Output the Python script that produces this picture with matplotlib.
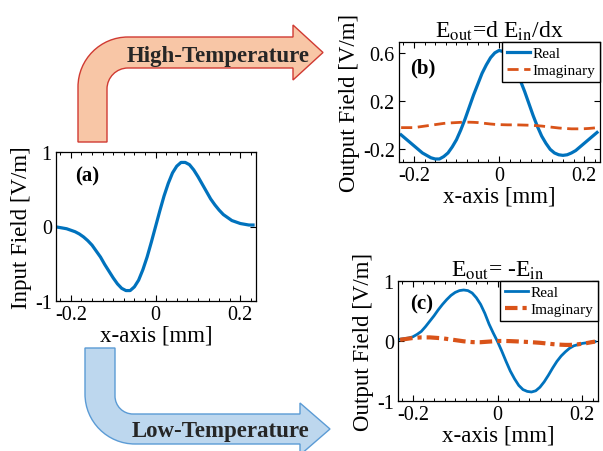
#!/usr/bin/env python3
"""
Input field and the two output fields (high / low temperature)
"""

import numpy as np
import matplotlib
matplotlib.use("Agg")
import matplotlib.pyplot as plt
from matplotlib.path import Path
from matplotlib.patches import PathPatch
from matplotlib.ticker import MultipleLocator, FixedLocator
from matplotlib.transforms import Affine2D

plt.rcParams['font.family'] = ['Liberation Serif', 'DejaVu Serif']
plt.rcParams['mathtext.fontset'] = 'stix'

# sample positions [mm]
x_mm = np.round(np.arange(-23, 24) / 100, 2)

# (a) input field
e_in = [-0.01, -0.02, -0.03, -0.05, -0.07, -0.10, -0.14, -0.19, -0.25, -0.33,
        -0.41, -0.51, -0.60, -0.69, -0.77, -0.83, -0.86, -0.86, -0.81, -0.72,
        -0.58, -0.41, -0.21, 0.00, 0.21, 0.41, 0.58, 0.72, 0.81, 0.86,
        0.86, 0.83, 0.76, 0.67, 0.57, 0.47, 0.37, 0.29, 0.22, 0.16,
        0.12, 0.08, 0.06, 0.04, 0.03, 0.02, 0.02]

# (b) high temperature: differentiator
b_real = [-0.08, -0.11, -0.14, -0.17, -0.20, -0.23, -0.25, -0.27, -0.28, -0.28,
          -0.26, -0.23, -0.18, -0.12, -0.04, 0.05, 0.15, 0.25, 0.34, 0.43,
          0.50, 0.56, 0.60, 0.62, 0.61, 0.58, 0.53, 0.46, 0.37, 0.28,
          0.18, 0.08, -0.01, -0.09, -0.15, -0.20, -0.23, -0.245, -0.25, -0.245,
          -0.23, -0.21, -0.18, -0.15, -0.12, -0.09, -0.06]
b_imag = [-0.02, -0.02, -0.02, -0.02, -0.015, -0.01, -0.005, 0.0, 0.005, 0.01,
          0.015, 0.018, 0.02, 0.022, 0.024, 0.025, 0.025, 0.024, 0.022, 0.018,
          0.014, 0.01, 0.007, 0.005, 0.004, 0.003, 0.003, 0.003, 0.002, 0.001,
          0.0, -0.002, -0.004, -0.007, -0.011, -0.015, -0.019, -0.023, -0.026, -0.028,
          -0.03, -0.03, -0.03, -0.029, -0.027, -0.024, -0.02]

# (c) low temperature: inverter
c_real = [0.03, 0.04, 0.05, 0.07, 0.11, 0.16, 0.24, 0.33, 0.42, 0.52,
          0.61, 0.69, 0.76, 0.81, 0.84, 0.85, 0.84, 0.80, 0.72, 0.61,
          0.46, 0.28, 0.13, -0.01, -0.17, -0.34, -0.50, -0.63, -0.74, -0.81,
          -0.84, -0.85, -0.83, -0.77, -0.68, -0.57, -0.45, -0.34, -0.25, -0.18,
          -0.12, -0.08, -0.06, -0.04, -0.03, -0.02, -0.01]
c_imag = [0.02, 0.03, 0.04, 0.05, 0.055, 0.06, 0.06, 0.06, 0.055, 0.05,
          0.045, 0.035, 0.025, 0.015, 0.005, -0.005, -0.012, -0.018, -0.02, -0.02,
          -0.015, -0.01, -0.005, 0.0, 0.0, 0.0, -0.002, -0.005, -0.008, -0.012,
          -0.016, -0.02, -0.025, -0.03, -0.037, -0.045, -0.052, -0.058, -0.062, -0.065,
          -0.065, -0.062, -0.055, -0.045, -0.035, -0.022, -0.01]

BLUE = '#0072BD'
ORANGE = '#D95319'
SERIF = 'Liberation Serif'
W, H = 603, 452

fig = plt.figure(figsize=(W / 100, H / 100), dpi=100)


def px_axes(left, top, right, bottom):
    return fig.add_axes([left / W, 1 - bottom / H, (right - left) / W, (bottom - top) / H])


def style(ax, yticks, ylim):
    ax.set_xlim(-0.235, 0.237)
    ax.set_ylim(*ylim)
    ax.xaxis.set_major_locator(FixedLocator([-0.2, 0, 0.2]))
    ax.xaxis.set_minor_locator(MultipleLocator(0.025))
    ax.set_xticklabels(['-0.2', '0', '0.2'], family=SERIF)
    ax.set_yticks(yticks)
    ax.set_yticklabels(['%g' % t for t in yticks], family=SERIF)
    ax.tick_params(which='both', direction='in', top=True, right=True, labelsize=14.5)
    ax.tick_params(which='major', length=4.5, width=0.8, pad=3)
    ax.tick_params(which='minor', length=2.5, width=0.7)
    for s in ax.spines.values():
        s.set_linewidth(0.9)
    ax.set_xlabel('x-axis [mm]', fontsize=16.5, labelpad=0)


def add_legend(ax):
    leg = ax.legend(loc='upper right', prop={'family': SERIF, 'size': 11},
                    borderaxespad=0, fancybox=False, framealpha=1,
                    handlelength=1.5, handletextpad=0.2, borderpad=0.3, labelspacing=0.2)
    frame = leg.get_frame()
    frame.set_edgecolor('black')
    frame.set_linewidth(1.0)
    leg.set_zorder(5)


# (a)
ax_a = px_axes(56, 153, 256, 302)
ax_a.plot(x_mm, e_in, color=BLUE, lw=2.3)
style(ax_a, [-1, 0, 1], (-1, 1))
ax_a.set_ylabel('Input Field [V/m]', fontsize=16.5, labelpad=2)
ax_a.text(0.095, 0.84, '(a)', transform=ax_a.transAxes, fontsize=15,
          fontweight='bold', ha='left', va='center')

# (b)
ax_b = px_axes(399, 43, 600, 163)
ax_b.plot(x_mm, b_real, color=BLUE, lw=2.3, label='Real')
ax_b.plot(x_mm, b_imag, color=ORANGE, lw=2.0, ls=(0, (4, 2)), label='Imaginary')
style(ax_b, [-0.2, 0.2, 0.6], (-0.305, 0.69))
ax_b.set_ylabel('Output Field [V/m]', fontsize=16.5, labelpad=2)
ax_b.set_title(r'E$_{\mathrm{out}}$=d E$_{\mathrm{in}}$/dx', fontsize=17, pad=3)
ax_b.text(0.055, 0.79, '(b)', transform=ax_b.transAxes, fontsize=15,
          fontweight='bold', ha='left', va='center')
add_legend(ax_b)

# (c)
ax_c = px_axes(398, 282, 598, 402)
ax_c.plot(x_mm, c_real, color=BLUE, lw=2.0, label='Real')
ax_c.plot(x_mm, c_imag, color=ORANGE, lw=3.0, ls=(0, (3, 1.2, 1, 1.2)), label='Imaginary')
style(ax_c, [-1, 0, 1], (-1, 1))
ax_c.set_ylabel('Output Field [V/m]', fontsize=16.5, labelpad=2)
ax_c.set_title(r'E$_{\mathrm{out}}$= -E$_{\mathrm{in}}$', fontsize=17, pad=4)
ax_c.text(0.06, 0.81, '(c)', transform=ax_c.transAxes, fontsize=15,
          fontweight='bold', ha='left', va='center')
add_legend(ax_c)

# bent arrows, drawn in pixel space
to_fig = Affine2D().scale(1 / W, -1 / H).translate(0, 1) + fig.transFigure
k = 0.5523

hi_verts = [(78, 143), (78, 88),
            (78, 88 - 50 * k), (128 - 50 * k, 38), (128, 38),
            (293, 38), (293, 26), (323, 53.5), (293, 81), (293, 69), (128, 69),
            (128 - 21 * k, 69), (107, 90 - 21 * k), (107, 90),
            (107, 143), (78, 143)]
hi_codes = [Path.MOVETO, Path.LINETO, Path.CURVE4, Path.CURVE4, Path.CURVE4,
            Path.LINETO, Path.LINETO, Path.LINETO, Path.LINETO, Path.LINETO, Path.LINETO,
            Path.CURVE4, Path.CURVE4, Path.CURVE4, Path.LINETO, Path.CLOSEPOLY]
fig.patches.append(PathPatch(Path(hi_verts, hi_codes), transform=to_fig,
                             facecolor='#F8C6A6', edgecolor='#D03A32', lw=1.0))

lo_verts = [(85, 349), (85, 395),
            (85, 395 + 50 * k), (135 - 50 * k, 445), (135, 445),
            (300, 445), (300, 456), (330, 430), (300, 404), (300, 415), (133, 415),
            (133 - 18 * k, 415), (115, 397 + 18 * k), (115, 397),
            (115, 349), (85, 349)]
fig.patches.append(PathPatch(Path(lo_verts, hi_codes), transform=to_fig,
                             facecolor='#BDD7EE', edgecolor='#5B9BD5', lw=1.0))

fig.text(218.5 / W, 1 - 62 / H, 'High-Temperature', fontsize=16.5, fontweight='bold',
         color='#262626', ha='center', va='baseline')
fig.text(221 / W, 1 - 437 / H, 'Low-Temperature', fontsize=16.5, fontweight='bold',
         color='#262626', ha='center', va='baseline')

fig.savefig('out.png', dpi=100)
